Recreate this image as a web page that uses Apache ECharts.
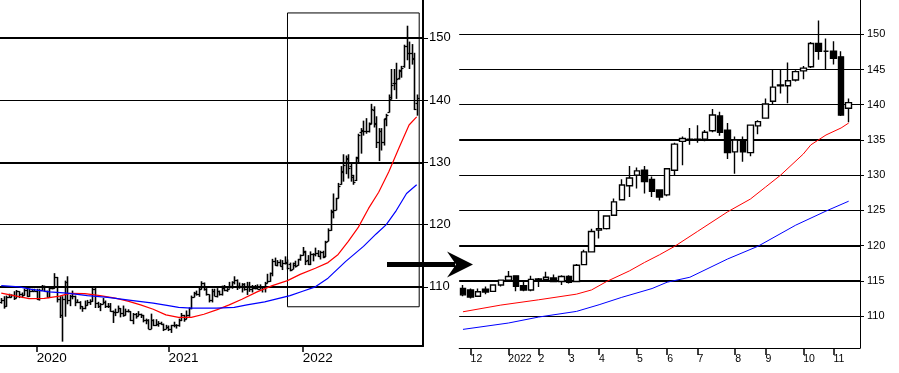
<!DOCTYPE html>
<html><head><meta charset="utf-8">
<script src="https://cdn.jsdelivr.net/npm/echarts@6/dist/echarts.min.js"></script>
<style>html,body{margin:0;padding:0;background:#fff}#c{width:899px;height:373px}</style>
</head><body><div id="c"></div>
<script>
// weekly bars: [week ending (Fri), open, high, low, close]
const weekly = [
["2019-09-27",107.5,108.2,107.3,107.9],["2019-10-04",107.9,108.5,106.5,106.9],["2019-10-11",106.9,108.6,106.8,108.3],
["2019-10-18",108.3,108.9,108.3,108.4],["2019-10-25",108.4,108.8,108.3,108.7],["2019-11-01",108.7,109.3,107.9,108.2],
["2019-11-08",108.2,109.5,108.2,109.3],["2019-11-15",109.3,109.3,108.2,108.8],["2019-11-22",108.8,109.1,108.2,108.7],
["2019-11-29",108.7,109.7,108.6,109.5],["2019-12-06",109.5,109.7,108.4,108.6],["2019-12-13",108.6,109.7,108.4,109.4],
["2019-12-20",109.4,109.7,109.2,109.4],["2019-12-27",109.4,109.7,109.3,109.4],["2020-01-03",109.4,109.7,107.9,108.1],
["2020-01-10",108.1,109.7,107.8,109.5],["2020-01-17",109.5,110.3,109.4,110.1],["2020-01-24",110.1,110.2,109.3,109.3],
["2020-01-31",109.3,109.4,108.3,108.4],["2020-02-07",108.4,110.0,108.3,109.8],["2020-02-14",109.8,110.1,109.6,109.8],
["2020-02-21",109.8,112.2,109.7,111.6],["2020-02-28",111.6,111.6,107.5,108.1],["2020-03-06",108.1,108.5,105.0,105.4],
["2020-03-13",105.4,108.5,101.2,108.0],["2020-03-20",108.0,111.0,105.2,110.8],["2020-03-27",110.8,111.7,107.2,107.9],
["2020-04-03",107.9,108.7,106.9,108.5],["2020-04-10",108.5,109.4,108.0,108.5],["2020-04-17",108.5,108.6,106.9,107.5],
["2020-04-24",107.5,108.0,107.4,107.5],["2020-05-01",107.5,107.7,106.4,106.9],["2020-05-08",106.9,106.9,106.0,106.6],
["2020-05-15",106.6,107.8,106.4,107.1],["2020-05-22",107.1,107.9,107.0,107.6],["2020-05-29",107.6,108.0,107.1,107.8],
["2020-06-05",107.8,109.9,107.6,109.6],["2020-06-12",109.6,109.9,106.6,107.4],["2020-06-19",107.4,107.6,106.6,106.9],
["2020-06-26",106.9,107.4,106.1,107.2],["2020-07-03",107.2,108.2,107.2,107.5],["2020-07-10",107.5,107.8,106.6,106.9],
["2020-07-17",106.9,107.4,106.6,107.0],["2020-07-24",107.0,107.4,106.0,106.1],["2020-07-31",106.1,106.2,104.2,105.9],
["2020-08-07",105.9,106.5,105.3,105.9],["2020-08-14",105.9,107.0,105.9,106.6],["2020-08-21",106.6,106.6,105.1,105.8],
["2020-08-28",105.8,107.0,105.2,105.4],["2020-09-04",105.4,106.5,105.4,106.2],["2020-09-11",106.2,106.4,105.9,106.1],
["2020-09-18",106.1,106.1,104.5,104.6],["2020-09-25",104.6,105.8,104.0,105.6],["2020-10-02",105.6,105.8,104.9,105.3],
["2020-10-09",105.3,106.1,105.3,105.6],["2020-10-16",105.6,105.7,105.0,105.4],["2020-10-23",105.4,105.5,104.3,104.7],
["2020-10-30",104.7,104.9,104.0,104.7],["2020-11-06",104.7,104.8,103.2,103.3],["2020-11-13",103.3,105.7,103.2,104.6],
["2020-11-20",104.6,104.8,103.7,103.8],["2020-11-27",103.8,104.8,103.7,104.1],["2020-12-04",104.1,104.5,103.6,104.2],
["2020-12-11",104.2,104.4,103.9,104.0],["2020-12-18",104.0,104.1,102.9,103.3],["2020-12-25",103.3,103.9,103.2,103.6],
["2021-01-01",103.6,103.8,102.9,103.2],["2021-01-08",103.2,103.9,102.6,103.9],["2021-01-15",103.9,104.4,103.5,103.9],
["2021-01-22",103.9,104.0,103.3,103.8],["2021-01-29",103.8,104.9,103.6,104.7],["2021-02-05",104.7,105.8,104.5,105.4],
["2021-02-12",105.4,105.5,104.4,104.9],["2021-02-19",104.9,106.2,104.8,105.4],["2021-02-26",105.4,106.7,105.2,106.6],
["2021-03-05",106.6,108.6,106.4,108.3],["2021-03-12",108.3,109.2,108.3,109.0],["2021-03-19",109.0,109.4,108.6,108.9],
["2021-03-26",108.9,109.9,108.4,109.7],["2021-04-02",109.7,110.9,109.6,110.7],["2021-04-09",110.7,110.7,109.4,109.7],
["2021-04-16",109.7,109.8,108.6,108.8],["2021-04-23",108.8,108.8,107.5,107.9],["2021-04-30",107.9,109.7,107.5,109.3],
["2021-05-07",109.3,109.7,108.5,108.6],["2021-05-14",108.6,109.8,108.3,109.4],["2021-05-21",109.4,109.4,108.6,108.9],
["2021-05-28",108.9,110.2,108.6,109.8],["2021-06-04",109.8,110.3,109.3,109.5],["2021-06-11",109.5,109.8,109.2,109.7],
["2021-06-18",109.7,110.8,109.7,110.2],["2021-06-25",110.2,110.9,109.7,110.8],["2021-07-02",110.8,111.7,110.4,111.1],
["2021-07-09",111.1,111.2,109.5,110.1],["2021-07-16",110.1,110.7,109.7,110.1],["2021-07-23",110.1,110.6,109.1,110.5],
["2021-07-30",110.5,110.6,109.4,109.7],["2021-08-06",109.7,110.8,108.7,110.2],["2021-08-13",110.2,110.8,109.2,109.6],
["2021-08-20",109.6,110.3,109.1,109.8],["2021-08-27",109.8,110.3,109.6,109.8],["2021-09-03",109.8,110.4,109.6,109.7],
["2021-09-10",109.7,110.4,109.6,109.9],["2021-09-17",109.9,110.1,109.1,110.0],["2021-09-24",110.0,110.8,109.1,110.7],
["2021-10-01",110.7,112.1,110.6,111.0],["2021-10-08",111.0,112.3,110.8,112.2],["2021-10-15",112.2,114.5,111.7,114.2],
["2021-10-22",114.2,114.7,113.4,113.5],["2021-10-29",113.5,114.3,113.3,114.0],["2021-11-05",114.0,114.4,113.3,113.4],
["2021-11-12",113.4,114.3,112.7,113.9],["2021-11-19",113.9,114.9,113.6,114.0],["2021-11-26",113.9,114.4,112.8,113.0],
["2021-12-03",113.7,113.9,112.5,112.7],["2021-12-10",112.8,113.9,112.8,113.45],["2021-12-17",113.8,114.2,113.1,113.4],
["2021-12-24",113.5,114.5,113.4,114.4],["2021-12-31",114.4,115.2,114.2,115.1],["2022-01-07",115.1,116.4,115.0,115.6],
["2022-01-14",115.7,115.8,113.5,114.2],["2022-01-21",114.3,115.1,113.5,113.7],["2022-01-28",113.7,115.7,113.5,115.2],
["2022-02-04",115.25,115.4,114.1,115.2],["2022-02-11",115.2,116.3,114.9,115.5],["2022-02-18",115.4,115.9,114.8,114.9],
["2022-02-25",114.9,115.8,114.4,115.6],["2022-03-04",115.6,115.8,114.6,114.8],["2022-03-11",114.9,117.4,114.8,117.2],
["2022-03-18",117.3,119.4,117.3,119.1],["2022-03-25",119.1,122.4,119.0,122.0],["2022-04-01",122.2,125.0,121.0,122.4],
["2022-04-08",122.4,124.3,122.3,124.2],["2022-04-15",124.3,126.7,124.2,126.2],["2022-04-22",126.5,129.4,126.4,128.6],
["2022-04-29",128.5,131.3,126.9,129.6],["2022-05-06",130.0,131.1,128.1,130.6],["2022-05-13",130.7,131.3,127.4,129.1],
["2022-05-20",129.4,129.8,126.9,127.7],["2022-05-27",127.9,128.0,126.4,126.9],["2022-06-03",127.2,130.9,127.0,130.9],
["2022-06-10",130.7,134.6,130.0,134.4],["2022-06-17",134.8,135.5,131.4,135.2],["2022-06-24",135.0,136.7,134.3,135.1],
["2022-07-01",135.1,137.1,134.6,135.0],["2022-07-08",135.1,136.4,134.8,136.1],["2022-07-15",136.3,139.4,136.1,138.55],
["2022-07-22",138.4,139.0,135.6,136.1],["2022-07-29",136.4,137.4,132.3,133.2],["2022-08-05",133.3,135.5,130.2,135.0],
["2022-08-12",135.0,135.5,131.9,133.3],["2022-08-19",133.2,137.0,132.7,137.1],["2022-08-26",137.0,137.8,135.8,137.6],
["2022-09-02",138.1,140.9,138.0,140.1],["2022-09-09",140.5,145.0,140.1,142.5],["2022-09-16",142.7,145.0,141.6,142.8],
["2022-09-23",142.7,146.0,140.2,143.4],["2022-09-30",143.5,144.9,143.3,144.7],["2022-10-07",144.8,145.5,143.6,145.2],
["2022-10-14",145.4,148.9,145.2,148.7],["2022-10-21",148.7,151.95,146.4,147.6],["2022-10-28",147.6,149.4,145.0,147.6],
["2022-11-04",147.6,149.0,145.7,146.6],["2022-11-11",146.8,147.6,138.4,138.55],["2022-11-18",139.5,140.9,137.5,140.3]
];
const emptyWeeks = ["2022-11-25","2022-12-02"];
const zoomStart = "2021-11-26";

// moving averages: [week, value]
const leftRedMA = [["2019-09-27",109.0],["2019-11-01",108.6],["2019-12-13",108.1],["2020-01-24",108.15],["2020-03-06",108.5],
["2020-04-03",108.95],["2020-05-15",108.9],["2020-06-26",108.6],["2020-08-07",108.2],["2020-09-11",107.7],["2020-10-16",107.1],
["2020-11-20",106.4],["2020-12-25",105.5],["2021-01-29",105.1],["2021-03-05",105.1],["2021-04-09",105.6],["2021-05-14",106.3],
["2021-06-18",107.1],["2021-07-23",108.0],["2021-09-03",109.2],["2021-10-15",110.2],["2021-11-26",111.0],["2021-12-31",112.0],
["2022-02-11",113.0],["2022-03-18",113.9],["2022-04-15",115.2],["2022-05-13",117.3],["2022-06-10",119.6],
["2022-07-08",122.6],["2022-08-05",125.2],["2022-09-02",128.5],["2022-09-30",132.3],["2022-10-28",136.0],["2022-11-18",137.3]];
const leftBlueMA = [["2019-09-27",110.2],["2019-11-15",110.0],["2019-12-20",109.6],["2020-02-07",109.2],["2020-03-27",109.0],
["2020-05-22",108.6],["2020-07-17",108.3],["2020-09-25",107.8],["2020-11-20",107.4],["2021-01-01",107.0],["2021-01-29",106.7],
["2021-03-05",106.6],["2021-05-14",106.6],["2021-07-02",106.7],["2021-08-06",107.1],["2021-09-24",107.6],["2021-11-05",108.2],
["2021-12-03",108.6],["2022-01-07",109.3],["2022-02-11",110.0],["2022-03-18",111.4],["2022-05-06",114.1],["2022-06-24",116.5],
["2022-07-29",118.5],["2022-08-26",120.0],["2022-09-23",122.3],["2022-10-21",125.0],["2022-11-18",126.4]];
const rightRedMA = [["2021-11-26",110.6],["2021-12-31",111.55],["2022-02-04",112.3],["2022-03-11",113.1],["2022-03-25",113.7],
["2022-04-08",114.9],["2022-04-29",116.4],["2022-05-13",117.6],["2022-05-27",118.7],["2022-06-10",119.9],["2022-07-01",122.0],
["2022-07-29",124.8],["2022-08-19",126.6],["2022-09-02",128.3],["2022-09-16",130.0],["2022-10-07",133.0],["2022-10-14",134.3],
["2022-10-21",135.0],["2022-10-28",135.7],["2022-11-11",136.7],["2022-11-18",137.4]];
const rightBlueMA = [["2021-11-26",108.1],["2022-01-07",109.0],["2022-02-04",109.85],["2022-03-11",110.65],["2022-04-01",111.6],
["2022-04-22",112.65],["2022-05-20",113.9],["2022-06-03",114.8],["2022-06-24",115.5],["2022-07-29",118.1],["2022-08-26",119.9],
["2022-09-30",122.9],["2022-10-28",124.9],["2022-11-18",126.3]];

// axis ticks / labels
const leftYearTicks = ["2020-01-03","2021-01-01","2022-01-07"];
const leftYearLabels = ["2020","2021","2022"];
const rightMonthTicks = ["2021-12-03","2022-01-07","2022-02-04","2022-03-04","2022-04-01","2022-05-06","2022-06-03",
"2022-07-01","2022-08-05","2022-09-02","2022-10-07","2022-11-04"];
const rightMonthLabels = ["12","2022","2","3","4","5","6","7","8","9","10","11"];
const leftPriceTicks = [110,120,130,140,150];
const leftHeavyLines = [110,130,150];
const rightPriceTicks = [110,115,120,125,130,135,140,145,150];
const rightHeavyLines = [115,120,135];
const zoomBoxRange = [106.8,154.0];

// derived
const leftCats = weekly.map(r => r[0]).concat(emptyWeeks);
const startIdx = weekly.findIndex(r => r[0] === zoomStart);
const rightRows = weekly.slice(startIdx);
const rightCats = rightRows.map(r => r[0]).concat([emptyWeeks[0]]);
const ohlcData = weekly.map((r, i) => [i, r[1], r[2], r[3], r[4]]);
const candleData = rightRows.map(r => [r[1], r[4], r[3], r[2]]);

const FONT = "'Liberation Sans', Arial, sans-serif";
const chart = echarts.init(document.getElementById('c'), null, {renderer: 'canvas'});

function gridMarks(ticks, heavy) {
  return {
    silent: true, symbol: ['none', 'none'], label: {show: false}, z: 1,
    emphasis: {disabled: true},
    data: ticks.map(v => ({yAxis: v, lineStyle: {color: '#000', type: 'solid', width: heavy.includes(v) ? 2 : 1}}))
  };
}

function renderOHLC(params, api) {
  const x = api.value(0);
  const o = api.coord([x, api.value(1)]);
  const h = api.coord([x, api.value(2)]);
  const l = api.coord([x, api.value(3)]);
  const c = api.coord([x, api.value(4)]);
  const px = Math.round(o[0]) + 0.5;
  const st = {stroke: '#000', lineWidth: 1.6};
  return {type: 'group', children: [
    {type: 'line', shape: {x1: px, y1: h[1], x2: px, y2: l[1]}, style: st},
    {type: 'line', shape: {x1: px - 2, y1: Math.round(o[1]) + 0.5, x2: px, y2: Math.round(o[1]) + 0.5}, style: {stroke: '#000', lineWidth: 1.2}},
    {type: 'line', shape: {x1: px, y1: Math.round(c[1]) + 0.5, x2: px + 2, y2: Math.round(c[1]) + 0.5}, style: {stroke: '#000', lineWidth: 1.2}}
  ]};
}

function maLine(xi, yi, data, color, width, extra) {
  return Object.assign({type: 'line', xAxisIndex: xi, yAxisIndex: yi, data: data, showSymbol: false, symbol: 'none',
    z: 4, smooth: false, lineStyle: {color: color, width: width}, silent: true}, extra || {});
}

const option = {
  animation: false,
  backgroundColor: '#fff',
  grid: [
    {left: 0, top: 0, width: 423, height: 346, outerBoundsMode: 'none', containLabel: false},
    {left: 459.2, top: 0, width: 400.8, height: 348, outerBoundsMode: 'none', containLabel: false}
  ],
  xAxis: [
    {type: 'category', gridIndex: 0, data: leftCats, boundaryGap: true,
     axisLine: {show: true, lineStyle: {color: '#000', width: 2}},
     axisTick: {show: true, alignWithLabel: true, length: 6, interval: (i, v) => leftYearTicks.includes(v), lineStyle: {color: '#000', width: 1.5}},
     axisLabel: {show: true, interval: (i, v) => leftYearTicks.includes(v), formatter: v => leftYearLabels[leftYearTicks.indexOf(v)],
       align: 'left', margin: 5, color: '#000', fontSize: 13.5, fontFamily: FONT},
     splitLine: {show: false}},
    {type: 'category', gridIndex: 1, data: rightCats, boundaryGap: true,
     axisLine: {show: true, lineStyle: {color: '#000', width: 1}},
     axisTick: {show: true, alignWithLabel: true, length: 7, interval: (i, v) => rightMonthTicks.includes(v), lineStyle: {color: '#000', width: 1.5}},
     axisLabel: {show: true, interval: (i, v) => rightMonthTicks.includes(v), formatter: v => rightMonthLabels[rightMonthTicks.indexOf(v)],
       align: 'left', margin: 6, color: '#000', fontSize: 10.5, fontFamily: FONT},
     splitLine: {show: false}}
  ],
  yAxis: [
    {type: 'value', gridIndex: 0, position: 'right', min: 100.5, max: 156.08, scale: true,
     axisLine: {show: true, lineStyle: {color: '#000', width: 2}},
     axisTick: {show: true, customValues: leftPriceTicks, length: 5, lineStyle: {color: '#000', width: 1}},
     axisLabel: {show: true, customValues: leftPriceTicks, margin: 6, color: '#000', fontSize: 13, fontFamily: FONT},
     splitLine: {show: false}},
    {type: 'value', gridIndex: 1, position: 'right', min: 105.456, max: 154.87, scale: true,
     axisLine: {show: true, lineStyle: {color: '#000', width: 1}},
     axisTick: {show: true, customValues: rightPriceTicks, length: 4, lineStyle: {color: '#000', width: 1}},
     axisLabel: {show: true, customValues: rightPriceTicks, margin: 7, color: '#000', fontSize: 11, fontFamily: FONT},
     splitLine: {show: false}}
  ],
  series: [
    {type: 'custom', xAxisIndex: 0, yAxisIndex: 0, renderItem: renderOHLC, data: ohlcData, z: 3,
     encode: {x: 0, y: [1, 2, 3, 4]}, silent: true,
     markArea: {silent: true, itemStyle: {color: 'rgba(0,0,0,0)', borderColor: '#000', borderWidth: 1},
       data: [[{xAxis: zoomStart, yAxis: zoomBoxRange[0]}, {xAxis: emptyWeeks[0], yAxis: zoomBoxRange[1]}]]}},
    maLine(0, 0, leftRedMA, '#ff0000', 1.2, {markLine: gridMarks(leftPriceTicks, leftHeavyLines)}),
    maLine(0, 0, leftBlueMA, '#0000ff', 1.2),
    {type: 'candlestick', xAxisIndex: 1, yAxisIndex: 1, data: candleData, barWidth: 6, z: 3, silent: true,
     itemStyle: {color: '#fff', color0: '#000', borderColor: '#000', borderColor0: '#000', borderColorDoji: '#000', borderWidth: 1.4}},
    maLine(1, 1, rightRedMA, '#ff0000', 1, {markLine: gridMarks(rightPriceTicks, rightHeavyLines)}),
    maLine(1, 1, rightBlueMA, '#0000ff', 1)
  ],
  graphic: [
    {type: 'rect', shape: {x: 387, y: 262, width: 68, height: 5}, style: {fill: '#000'}, z: 10},
    {type: 'polygon', shape: {points: [[473, 264.5], [447, 251.5], [456, 264.5], [447, 277.5]]}, style: {fill: '#000'}, z: 10}
  ]
};
chart.setOption(option);
</script></body></html>
